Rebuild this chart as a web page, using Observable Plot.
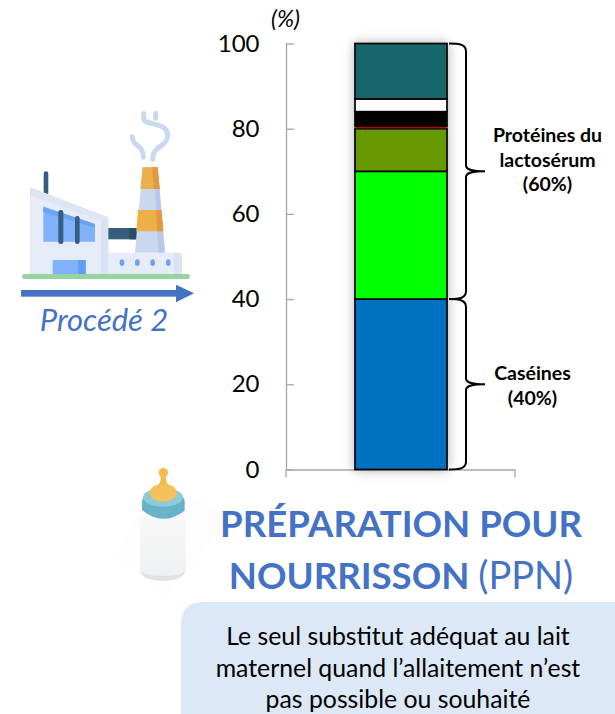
<!DOCTYPE html>
<html lang="fr">
<head>
<meta charset="utf-8">
<script src="https://cdn.jsdelivr.net/npm/d3@7"></script>
<script src="https://cdn.jsdelivr.net/npm/@observablehq/plot@0.6"></script>
<style>
html,body{margin:0;padding:0;background:#fff;}
body{width:615px;height:714px;position:relative;overflow:hidden;font-family:Lato,"Open Sans",sans-serif;}
#chart{position:absolute;left:0;top:0;}
#chart svg{overflow:visible;background:transparent;}
#art{position:absolute;left:0;top:0;}
#title{position:absolute;left:180px;width:442px;top:498px;text-align:center;color:#4472c4;font:700 36.6px/51px Lato,sans-serif;white-space:nowrap;}
#title span{font-weight:400;font-size:38px;}
#note{position:absolute;left:181px;top:602px;width:454px;height:130px;border-radius:20px;background:#dce8f5;}
#noteText{position:absolute;left:181px;width:434px;top:620px;text-align:center;color:#000;font:400 24.8px/31.5px Lato,sans-serif;white-space:nowrap;}
</style>
</head>
<body>
<svg id="art" width="615" height="714" viewBox="0 0 615 714" xmlns="http://www.w3.org/2000/svg">
  <defs>
    <linearGradient id="glass" x1="0" y1="0" x2="0" y2="1">
      <stop offset="0" stop-color="#f8f8f8"/><stop offset="1" stop-color="#eef0f1"/>
    </linearGradient>
  </defs>
  <g transform="translate(0,90) scale(0.33333)">
    <g fill="none" stroke="#c9d9f0" stroke-width="15" stroke-linecap="round">
      <path d="M431,70 V85 C431,108 503,95 503,135 C503,172 458,165 458,208"/>
      <path d="M467,70 V85"/>
      <path d="M397,140 C397,172 430,160 430,202"/>
    </g>
    <rect x="131" y="244" width="14" height="72" rx="7" fill="#365d7d"/>
    <path d="M90,292 L325,382 V552 H90 Z" fill="#e6ecf7"/>
    <path d="M90,292 L325,382 V400 L90,316 Z" fill="#dde5f3"/>
    <rect x="303" y="392" width="22" height="160" fill="#d8e2f0"/>
    <path d="M130,350 L285,402 V455 H130 Z" fill="#7fb2fb"/>
    <path d="M130,350 L285,402 V414 L130,366 Z" fill="#6aa3f5"/>
    <rect x="175" y="360" width="15" height="102" rx="7" fill="#365d7d"/>
    <rect x="225" y="378" width="14" height="84" rx="7" fill="#365d7d"/>
    <rect x="158" y="510" width="99" height="42" fill="#7fb2fb"/>
    <rect x="235" y="510" width="22" height="42" fill="#5f9cf2"/>
    <rect x="325" y="414" width="85" height="34" fill="#365d7d"/>
    <rect x="388" y="414" width="22" height="34" fill="#2c4d68"/>
    <path d="M428,232 H473 L495,488 H405 Z" fill="#c9d8ef"/>
    <path d="M462,232 H473 L495,488 H475 Z" fill="#b9c8e8"/>
    <path d="M428,232 H473 L479,297 H421 Z" fill="#ecb04a"/>
    <path d="M455,232 H473 L479,297 H462 Z" fill="#e5983f"/>
    <path d="M414,360 H484 L490,424 H409 Z" fill="#ecb04a"/>
    <path d="M467,360 H484 L490,424 H472 Z" fill="#e5983f"/>
    <path d="M325,488 H532 Q546,488 546,502 V552 H325 Z" fill="#e6ecf7"/>
    <path d="M522,488 H532 Q546,488 546,502 V552 H522 Z" fill="#d8e2f0"/>
    <g fill="#6aa3f5">
      <ellipse cx="366" cy="518" rx="7" ry="10"/>
      <ellipse cx="412" cy="518" rx="7" ry="10"/>
      <ellipse cx="458" cy="518" rx="7" ry="10"/>
      <ellipse cx="505" cy="518" rx="7" ry="10"/>
    </g>
    <rect x="66" y="552" width="504" height="15" rx="7" fill="#96d5a0"/>
    <rect x="63" y="600" width="466" height="20" fill="#4472c4"/>
    <path d="M528,584 L582,610 L528,637 Z" fill="#4472c4"/>
  </g>
  <text x="104" y="331" text-anchor="middle" fill="#4472c4" font-family="Lato,sans-serif" font-style="italic" font-size="31">Procédé 2</text>
  <g transform="translate(120,450) scale(0.33333)">
    <path d="M120,70 L330,215 L130,435 L-10,310 Z" fill="#fdfdfd"/>
    <path d="M60,215 Q60,195 75,185 H180 Q197,195 197,215 V355 Q197,392 128,392 Q60,392 60,355 Z" fill="url(#glass)"/>
    <path d="M60,355 Q60,392 128,392 Q197,392 197,355 Q197,378 128,378 Q60,378 60,355 Z" fill="#e2e2e2"/>
    <path d="M66,180 V152 Q72,122 128,122 Q188,122 194,152 V182 Q128,232 66,180 Z" fill="#69b3c8"/>
    <ellipse cx="129" cy="142" rx="60" ry="28" fill="#8ccbd8"/>
    <ellipse cx="130" cy="128" rx="41" ry="27" fill="#f6c05c"/>
    <path d="M114,106 Q124,95 122,76 H138 Q136,95 146,106 Z" fill="#f4b94f"/>
    <ellipse cx="130" cy="68" rx="14" ry="14" fill="#f4b94f"/>
  </g>
</svg>
<div id="chart"></div>
<div id="title">PRÉPARATION POUR<br>NOURRISSON <span>(PPN)</span></div>
<div id="note"></div>
<div id="noteText">Le seul substitut adéquat au lait<br>maternel quand l’allaitement n’est<br>pas possible ou souhaité</div>
<script>
const categories = ["PPN"];
const segmentNames = ["Caséines", "Lactosérum 1", "Lactosérum 2", "Lactosérum 3", "Lactosérum 4", "Lactosérum 5", "Lactosérum 6"];
const segmentValues = [40, 30, 10, 0.5, 3.5, 3, 13];
const segmentColors = ["#0070c0", "#00ff00", "#669900", "#c00000", "#000000", "#ffffff", "#16666b"];
const yTicks = [0, 20, 40, 60, 80, 100];
const braceRanges = [[0, 40], [40, 100]];
const braceLabels = ["Caséines\n(40%)", "Protéines du\nlactosérum\n(60%)"];
const braceLabelY = [20, 70];
const braceLabelX = [532, 547];
const braceLabelDy = [0, -13];

const tops = d3.cumsum(segmentValues);
const rows = segmentNames.map((name, i) => ({
  category: categories[0], name, y1: tops[i] - segmentValues[i], y2: tops[i], color: segmentColors[i]
}));
const thinRows = rows.filter((d) => d.y2 - d.y1 < 1);
const wideRows = rows.filter((d) => d.y2 - d.y1 >= 1);

function braces(index, scales) {
  const g = d3.create("svg:g").attr("fill", "none").attr("stroke", "#000").attr("stroke-width", 2);
  for (const [lo, hi] of braceRanges) {
    const yb = scales.y(lo), yt = scales.y(hi), ym = (yb + yt) / 2;
    const p = d3.path();
    p.moveTo(449, yt);
    p.bezierCurveTo(460, yt, 466, yt + 1, 466, yt + 8);
    p.lineTo(466, ym - 6);
    p.bezierCurveTo(466, ym - 2, 470, ym, 485, ym);
    p.bezierCurveTo(470, ym, 466, ym + 2, 466, ym + 6);
    p.lineTo(466, yb - 8);
    p.bezierCurveTo(466, yb - 1, 460, yb, 449, yb);
    g.append("path").attr("d", p.toString());
  }
  return g.node();
}

function baseTicks(index, scales, values, dims) {
  const g = d3.create("svg:g").attr("stroke", "#a6a6a6").attr("stroke-width", 1.3);
  for (const x of [dims.marginLeft, dims.width - dims.marginRight]) {
    g.append("line").attr("x1", x).attr("x2", x)
      .attr("y1", scales.y(0)).attr("y2", scales.y(0) + 8);
  }
  return g.node();
}

const plot = Plot.plot({
  width: 615, height: 480,
  marginLeft: 286, marginRight: 100, marginTop: 43.5, marginBottom: 10.5,
  style: {fontFamily: "Lato, sans-serif", background: "transparent", overflow: "visible"},
  x: {type: "band", domain: categories, range: [354.5, 446.5], padding: 0, axis: null},
  y: {domain: [0, 100], axis: null},
  color: {type: "identity"},
  marks: [
    Plot.frame({anchor: "left", stroke: "#a6a6a6", strokeWidth: 1.3}),
    Plot.ruleY([0], {stroke: "#a6a6a6", strokeWidth: 1.3}),
    baseTicks,
    Plot.axisY({
      ticks: yTicks, tickSize: -8, tickPadding: 35, stroke: "#a6a6a6", strokeWidth: 1.3,
      strokeOpacity: 1, fontSize: 24, fill: "#000", label: null, anchor: "left"
    }),
    Plot.barY(wideRows, {
      x: "category", y1: "y1", y2: "y2", fill: "color", stroke: "#000", strokeWidth: 1.7,
      imageFilter: "drop-shadow(0 0 6px rgba(0,0,0,0.3))"
    }),
    Plot.barY(thinRows, {x: "category", y1: "y1", y2: "y2", fill: "color", insetLeft: 1, insetRight: 1, insetTop: 0.3, insetBottom: 0.3}),
    braces,
    Plot.text(braceLabels, {
      y: braceLabelY, frameAnchor: "left",
      text: (d) => d, fontSize: 19.5, fontWeight: 700, fill: "#000",
      textAnchor: "middle", lineHeight: 1.27,
      render(index, scales, values, dims, context, next) {
        const g = next(index, scales, values, dims, context);
        d3.select(g).selectAll("text").each(function(_, i) {
          const k = index[i];
          d3.select(this).attr("transform", `translate(${braceLabelX[k]},${scales.y(braceLabelY[k]) + braceLabelDy[k]})`);
        });
        return g;
      }
    }),
    Plot.text(["(%)"], {
      frameAnchor: "top-left", dx: -1, dy: -33, fontSize: 23, fontStyle: "italic", fill: "#000", textAnchor: "middle", text: (d) => d
    })
  ]
});
document.getElementById("chart").appendChild(plot);
</script>
</body>
</html>
